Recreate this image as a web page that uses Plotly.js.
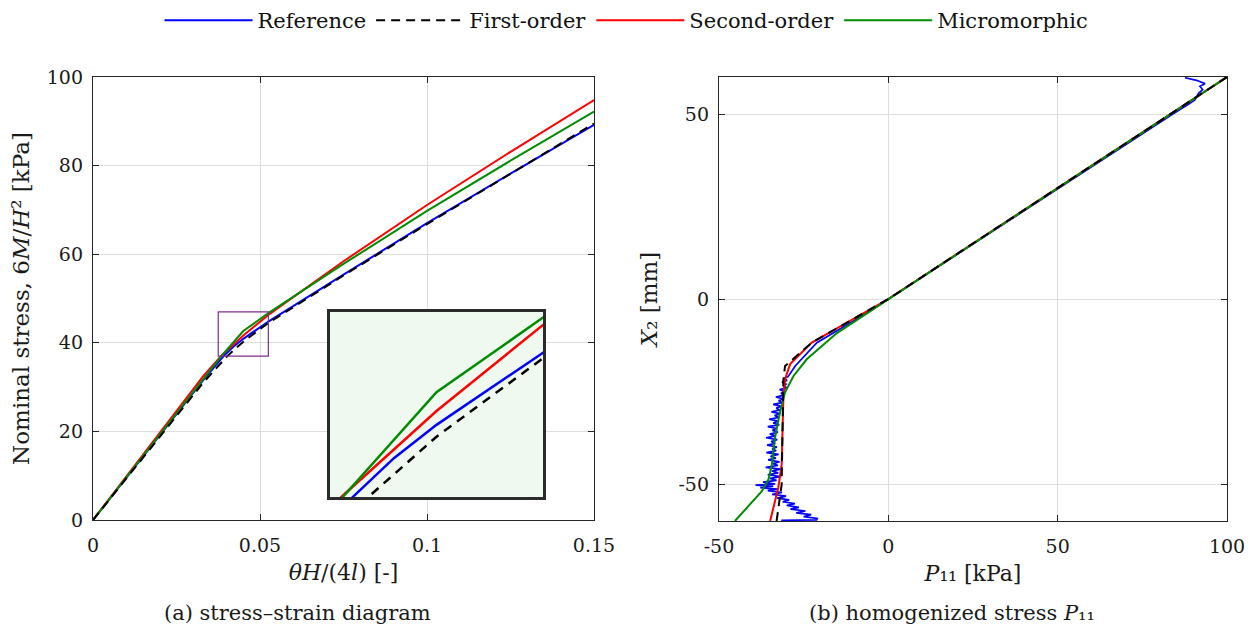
<!DOCTYPE html>
<html><head><meta charset="utf-8">
<script src="https://cdn.plot.ly/plotly-3.0.1.min.js"></script>
<style>html,body{margin:0;padding:0;background:#fff}#chart{width:1253px;height:634px}</style>
</head><body><div id="chart"></div>
<script>
// ---------- data: (a) stress-strain diagram ----------
const seriesNames = ['Reference', 'First-order', 'Second-order', 'Micromorphic'];
const refStrain   = [0, 0.033, 0.0391, 0.042, 0.045, 0.0525, 0.075, 0.1, 0.125, 0.15];
const refStress   = [0, 31.6, 37.0, 39.1, 40.9, 44.8, 55.4, 67.0, 78.2, 89.2];
const firstStrain = [0, 0.033, 0.0402, 0.045, 0.0525, 0.075, 0.1, 0.125, 0.15];
const firstStress = [0, 31.0, 37.0, 40.26, 44.5, 55.2, 66.8, 78.2, 89.5];
const secStrain   = [0, 0.033, 0.0383, 0.045, 0.0525, 0.075, 0.1, 0.125, 0.15];
const secStress   = [0, 32.5, 37.0, 41.65, 46.3, 58.4, 71.1, 83.1, 94.8];
const microStrain = [0, 0.033, 0.0384, 0.045, 0.0525, 0.075, 0.1, 0.125, 0.15];
const microStress = [0, 32.0, 37.0, 42.66, 46.7, 57.8, 69.8, 81.1, 92.2];
const zoomBox = {x: [0.0375, 0.0525], y: [37, 47]};

// ---------- data: (b) homogenized stress P11 over X2 ----------
const refP  = [87.6, 91.0, 93.5, 92.0, 92.8, 91.6, 90.5, 88.6, 84.0, 50.5, 0, -8.6, -21.1, -27.5, -29.3,
  -29.6, -30.8, -29.9, -31.4, -30.2, -30.9, -30.0, -32.1, -30.6, -31.7, -30.8, -33.2, -31.0, -32.4, -31.3,
  -34.0, -31.6, -33.1, -32.0, -34.5, -31.9, -33.6, -32.3, -35.2, -32.5, -34.0, -32.2, -35.6, -33.0, -34.2,
  -32.6, -35.0, -33.3, -36.1, -32.8, -34.6, -33.4, -35.8, -32.9, -34.3, -33.1, -36.0, -32.4, -34.8, -33.2,
  -35.5, -32.1, -34.0, -32.6, -36.2, -31.9, -34.4, -32.5, -35.6, -31.7, -34.9, -33.0, -37.0, -33.4, -39.2,
  -34.0, -37.8, -32.8, -35.6, -31.4, -34.3, -30.2, -32.8, -29.3, -31.2, -27.6, -30.0, -26.4, -28.9, -24.5,
  -27.2, -22.8, -25.0, -21.0, -21.2, -31.6];
const refX2 = [59.8, 59.1, 58.2, 57.5, 56.6, 55.6, 53.8, 52.6, 50.0, 30.0, 0, -5.0, -11.8, -18.1, -20.5,
  -21.0, -21.5, -22.0, -22.5, -23.0, -23.5, -24.0, -24.5, -25.0, -25.5, -26.0, -26.5, -27.0, -27.5, -28.0,
  -28.5, -29.0, -29.5, -30.0, -30.5, -31.0, -31.5, -32.0, -32.5, -33.0, -33.5, -34.0, -34.5, -35.0, -35.5,
  -36.0, -36.5, -37.0, -37.5, -38.0, -38.5, -39.0, -39.5, -40.0, -40.5, -41.0, -41.5, -42.0, -42.5, -43.0,
  -43.5, -44.0, -44.5, -45.0, -45.5, -46.0, -46.5, -47.0, -47.5, -48.0, -48.5, -49.0, -49.5, -50.0, -50.3,
  -50.6, -51.0, -51.4, -51.8, -52.3, -52.8, -53.3, -53.8, -54.3, -54.8, -55.3, -55.8, -56.3, -56.8, -57.3,
  -57.8, -58.3, -58.8, -59.3, -59.7, -59.8];
const firstP  = [100, 0, -22.6, -29.0, -30.5, -31.0, -31.5, -33.0];
const firstX2 = [60, 0, -11.8, -17.0, -18.1, -22.0, -50.2, -60];
const secP    = [100, 0, -22.6, -29.0, -30.5, -31.0, -31.5, -32.5, -34.9];
const secX2   = [60, 0, -11.8, -17.6, -21.7, -27.0, -44.8, -51.0, -60];
const microP  = [100, 0, -15.2, -24.1, -28.0, -30.5, -32.0, -33.5, -34.4, -35.4, -37.4, -45.3];
const microX2 = [60, 0, -9.2, -16.3, -20.8, -25.2, -30.6, -37.7, -44.8, -48.8, -52.0, -60];

// ---------- ticks ----------
const aXTicks = [0, 0.05, 0.1, 0.15], aXTickText = ['0', '0.05', '0.1', '0.15'];
const aYTicks = [0, 20, 40, 60, 80, 100], aYTickText = ['0', '20', '40', '60', '80', '100'];
const bXTicks = [-50, 0, 50, 100], bXTickText = ['-50', '0', '50', '100'];
const bYTicks = [-50, 0, 50], bYTickText = ['-50', '0', '50'];

// ---------- styling ----------
const TEXT_FONT = 'DejaVu Serif';
const colors = {ref: '#0000ff', first: '#000000', sec: '#ff0000', micro: '#008c00'};
const W = 1253, H = 634;
const px = (a, b) => [a / W, b / W];
const py = (top, bot) => [1 - bot / H, 1 - top / H];
const DASH = '9px,6px';

function line(x, y, name, color, opts) {
  return Object.assign({x: x, y: y, name: name, type: 'scatter', mode: 'lines',
    line: {color: color, width: 2}}, opts || {});
}

const traces = [];
// (a) main
traces.push(line(refStrain, refStress, seriesNames[0], colors.ref, {legendgroup: 'r', legendrank: 1}));
traces.push(line(secStrain, secStress, seriesNames[2], colors.sec, {legendgroup: 's', legendrank: 3}));
traces.push(line(microStrain, microStress, seriesNames[3], colors.micro, {legendgroup: 'm', legendrank: 4}));
traces.push(line(firstStrain, firstStress, seriesNames[1], colors.first, {legendgroup: 'f', legendrank: 2,
  line: {color: colors.first, width: 2, dash: DASH}}));
// (a) inset
[[refStrain, refStress, colors.ref, 'solid'], [secStrain, secStress, colors.sec, 'solid'],
 [microStrain, microStress, colors.micro, 'solid'], [firstStrain, firstStress, colors.first, '9px,7px']].forEach(function (s) {
  traces.push({x: s[0], y: s[1], xaxis: 'x3', yaxis: 'y3', type: 'scatter', mode: 'lines', showlegend: false,
    hoverinfo: 'skip', line: {color: s[2], width: 2.5, dash: s[3]}});
});
// (b)
traces.push(line(refP, refX2, seriesNames[0], colors.ref, {xaxis: 'x2', yaxis: 'y2', showlegend: false, line: {color: colors.ref, width: 1.7}}));
traces.push(line(secP, secX2, seriesNames[2], colors.sec, {xaxis: 'x2', yaxis: 'y2', showlegend: false}));
traces.push(line(microP, microX2, seriesNames[3], colors.micro, {xaxis: 'x2', yaxis: 'y2', showlegend: false}));
traces.push(line(firstP, firstX2, seriesNames[1], colors.first, {xaxis: 'x2', yaxis: 'y2', showlegend: false,
  line: {color: colors.first, width: 2, dash: DASH}}));

const axBase = {
  showline: true, mirror: 'ticks', linecolor: '#262626', linewidth: 1.3,
  ticks: 'inside', ticklen: 6, tickwidth: 1.2, tickcolor: '#262626',
  showgrid: true, gridcolor: '#dedede', gridwidth: 1, zeroline: false,
  tickfont: {family: TEXT_FONT, size: 19, color: '#1a1a1a'}, tickmode: 'array'
};
const xTitleFont = {family: TEXT_FONT, size: 22, color: '#1a1a1a'};
const yTitleFont = {family: TEXT_FONT, size: 23, color: '#1a1a1a'};

const layout = {
  width: W, height: H, margin: {l: 0, r: 0, t: 0, b: 0},
  paper_bgcolor: '#ffffff', plot_bgcolor: '#ffffff',
  font: {family: TEXT_FONT, size: 20, color: '#1a1a1a'},
  showlegend: true,
  legend: {orientation: 'h', x: 0.5, xanchor: 'center', y: 1.0, yanchor: 'top',
    font: {family: TEXT_FONT, size: 21, color: '#111'}, bgcolor: 'rgba(0,0,0,0)', itemwidth: 88,
    traceorder: 'normal'},
  xaxis: Object.assign({}, axBase, {domain: px(93, 594), range: [0, 0.15], tickvals: aXTicks, ticktext: aXTickText,
    anchor: 'y', ticklabelstandoff: 8,
    title: {text: '<i>θH</i>/(4<i>l</i>) [-]', font: xTitleFont, standoff: 9}}),
  yaxis: Object.assign({}, axBase, {domain: py(77, 520), range: [0, 100], tickvals: aYTicks, ticktext: aYTickText,
    anchor: 'x', ticklabelstandoff: 5,
    title: {text: 'Nominal stress, 6<i>M</i>/<i>H</i>² [kPa]', font: yTitleFont, standoff: 10}}),
  xaxis2: Object.assign({}, axBase, {domain: px(719, 1227), range: [-50, 100], tickvals: bXTicks, ticktext: bXTickText,
    anchor: 'y2', ticklabelstandoff: 8,
    title: {text: '<i>P</i>₁₁ [kPa]', font: xTitleFont, standoff: 9}}),
  yaxis2: Object.assign({}, axBase, {domain: py(77, 521), range: [-60, 60], tickvals: bYTicks, ticktext: bYTickText,
    anchor: 'x2', ticklabelstandoff: 5,
    title: {text: '<i>X</i>₂ [mm]', font: yTitleFont, standoff: 14}}),
  xaxis3: {domain: px(330, 543), range: zoomBox.x, anchor: 'y3', showgrid: false, zeroline: false,
    showticklabels: false, ticks: '', showline: true, mirror: true, linecolor: '#2b2b2b', linewidth: 2.5},
  yaxis3: {domain: py(312, 497), range: zoomBox.y, anchor: 'x3', showgrid: false, zeroline: false,
    showticklabels: false, ticks: '', showline: true, mirror: true, linecolor: '#2b2b2b', linewidth: 2.5},
  shapes: [
    {type: 'rect', xref: 'x', yref: 'y', x0: zoomBox.x[0], x1: zoomBox.x[1], y0: zoomBox.y[0], y1: zoomBox.y[1],
      line: {color: '#7e2f8e', width: 1.2}, fillcolor: 'rgba(0,0,0,0)', layer: 'above'},
    {type: 'rect', xref: 'x3', yref: 'y3', x0: zoomBox.x[0], x1: zoomBox.x[1], y0: zoomBox.y[0], y1: zoomBox.y[1],
      line: {width: 0}, fillcolor: 'rgb(240,249,240)', layer: 'below'}
  ],
  annotations: [
    {text: '(a) stress–strain diagram', xref: 'paper', yref: 'paper', x: 297 / W, y: 1 - 613 / H,
      xanchor: 'center', yanchor: 'middle', showarrow: false, font: {family: TEXT_FONT, size: 21, color: '#1a1a1a'}},
    {text: '(b) homogenized stress <i>P</i>₁₁', xref: 'paper', yref: 'paper', x: 952 / W, y: 1 - 613 / H,
      xanchor: 'center', yanchor: 'middle', showarrow: false, font: {family: TEXT_FONT, size: 21, color: '#1a1a1a'}}
  ]
};

Plotly.newPlot('chart', traces, layout, {displayModeBar: false, responsive: false});
</script></body></html>
